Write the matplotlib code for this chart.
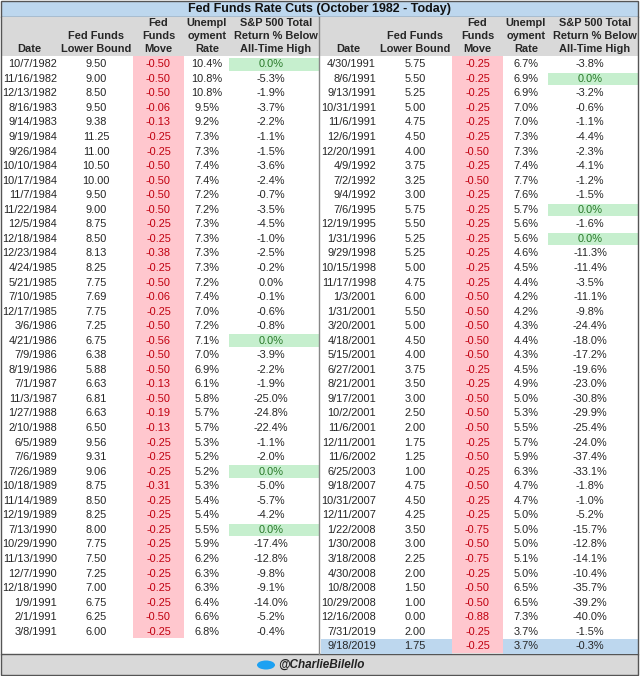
import matplotlib
matplotlib.use("Agg")
import matplotlib.pyplot as plt
from matplotlib.patches import Rectangle, Ellipse

plt.rcParams['font.family'] = ['Liberation Sans', 'DejaVu Sans']

dates_l = ["10/7/1982","11/16/1982","12/13/1982","8/16/1983","9/14/1983","9/19/1984","9/26/1984","10/10/1984","10/17/1984","11/7/1984","11/22/1984","12/5/1984","12/18/1984","12/23/1984","4/24/1985","5/21/1985","7/10/1985","12/17/1985","3/6/1986","4/21/1986","7/9/1986","8/19/1986","7/1/1987","11/3/1987","1/27/1988","2/10/1988","6/5/1989","7/6/1989","7/26/1989","10/18/1989","11/14/1989","12/19/1989","7/13/1990","10/29/1990","11/13/1990","12/7/1990","12/18/1990","1/9/1991","2/1/1991","3/8/1991"]
lower_l = ["9.50","9.00","8.50","9.50","9.38","11.25","11.00","10.50","10.00","9.50","9.00","8.75","8.50","8.13","8.25","7.75","7.69","7.75","7.25","6.75","6.38","5.88","6.63","6.81","6.63","6.50","9.56","9.31","9.06","8.75","8.50","8.25","8.00","7.75","7.50","7.25","7.00","6.75","6.25","6.00"]
move_l = ["-0.50","-0.50","-0.50","-0.06","-0.13","-0.25","-0.25","-0.50","-0.50","-0.50","-0.50","-0.25","-0.25","-0.38","-0.25","-0.50","-0.06","-0.25","-0.50","-0.56","-0.50","-0.50","-0.13","-0.50","-0.19","-0.13","-0.25","-0.25","-0.25","-0.31","-0.25","-0.25","-0.25","-0.25","-0.25","-0.25","-0.25","-0.25","-0.50","-0.25"]
unemp_l = ["10.4%","10.8%","10.8%","9.5%","9.2%","7.3%","7.3%","7.4%","7.4%","7.2%","7.2%","7.3%","7.3%","7.3%","7.3%","7.2%","7.4%","7.0%","7.2%","7.1%","7.0%","6.9%","6.1%","5.8%","5.7%","5.7%","5.3%","5.2%","5.2%","5.3%","5.4%","5.4%","5.5%","5.9%","6.2%","6.3%","6.3%","6.4%","6.6%","6.8%"]
sp_l = ["0.0%","-5.3%","-1.9%","-3.7%","-2.2%","-1.1%","-1.5%","-3.6%","-2.4%","-0.7%","-3.5%","-4.5%","-1.0%","-2.5%","-0.2%","0.0%","-0.1%","-0.6%","-0.8%","0.0%","-3.9%","-2.2%","-1.9%","-25.0%","-24.8%","-22.4%","-1.1%","-2.0%","0.0%","-5.0%","-5.7%","-4.2%","0.0%","-17.4%","-12.8%","-9.8%","-9.1%","-14.0%","-5.2%","-0.4%"]
ath_l = [0, 19, 28, 32]  # rows flagged as new all-time high

dates_r = ["4/30/1991","8/6/1991","9/13/1991","10/31/1991","11/6/1991","12/6/1991","12/20/1991","4/9/1992","7/2/1992","9/4/1992","7/6/1995","12/19/1995","1/31/1996","9/29/1998","10/15/1998","11/17/1998","1/3/2001","1/31/2001","3/20/2001","4/18/2001","5/15/2001","6/27/2001","8/21/2001","9/17/2001","10/2/2001","11/6/2001","12/11/2001","11/6/2002","6/25/2003","9/18/2007","10/31/2007","12/11/2007","1/22/2008","1/30/2008","3/18/2008","4/30/2008","10/8/2008","10/29/2008","12/16/2008","7/31/2019","9/18/2019"]
lower_r = ["5.75","5.50","5.25","5.00","4.75","4.50","4.00","3.75","3.25","3.00","5.75","5.50","5.25","5.25","5.00","4.75","6.00","5.50","5.00","4.50","4.00","3.75","3.50","3.00","2.50","2.00","1.75","1.25","1.00","4.75","4.50","4.25","3.50","3.00","2.25","2.00","1.50","1.00","0.00","2.00","1.75"]
move_r = ["-0.25","-0.25","-0.25","-0.25","-0.25","-0.25","-0.50","-0.25","-0.50","-0.25","-0.25","-0.25","-0.25","-0.25","-0.25","-0.25","-0.50","-0.50","-0.50","-0.50","-0.50","-0.25","-0.25","-0.50","-0.50","-0.50","-0.25","-0.50","-0.25","-0.50","-0.25","-0.25","-0.75","-0.50","-0.75","-0.25","-0.50","-0.50","-0.88","-0.25","-0.25"]
unemp_r = ["6.7%","6.9%","6.9%","7.0%","7.0%","7.3%","7.3%","7.4%","7.7%","7.6%","5.7%","5.6%","5.6%","4.6%","4.5%","4.4%","4.2%","4.2%","4.3%","4.4%","4.3%","4.5%","4.9%","5.0%","5.3%","5.5%","5.7%","5.9%","6.3%","4.7%","4.7%","5.0%","5.0%","5.0%","5.1%","5.0%","6.5%","6.5%","7.3%","3.7%","3.7%"]
sp_r = ["-3.8%","0.0%","-3.2%","-0.6%","-1.1%","-4.4%","-2.3%","-4.1%","-1.2%","-1.5%","0.0%","-1.6%","0.0%","-11.3%","-11.4%","-3.5%","-11.1%","-9.8%","-24.4%","-18.0%","-17.2%","-19.6%","-23.0%","-30.8%","-29.9%","-25.4%","-24.0%","-37.4%","-33.1%","-1.8%","-1.0%","-5.2%","-15.7%","-12.8%","-14.1%","-10.4%","-35.7%","-39.2%","-40.0%","-1.5%","-0.3%"]
ath_r = [1, 10, 12]

W, H = 640, 676
fig = plt.figure(figsize=(6.4, 6.76), dpi=100)
ax = fig.add_axes([0, 0, 1, 1])
ax.set_xlim(0, W); ax.set_ylim(H, 0); ax.axis('off')

FS = 7.9
TXT = '#262626'
RED = '#c0000f'
PINK = '#ffc7ce'
GREEN_BG = '#c6efce'
GREEN_TX = '#2a7a2a'
BLUE = '#bdd7ee'
GRAY = '#d9d9d9'

ax.add_patch(Rectangle((1, 1), W-3, 16, fc=BLUE, ec='#555555', lw=1))
ax.add_patch(Rectangle((1, 17), W-3, 39, fc=GRAY, ec='none'))
ax.add_patch(Rectangle((1, 56), W-3, 598, fc='white', ec='none'))
ax.add_patch(Rectangle((1, 654), W-3, 21, fc=GRAY, ec='#555555', lw=1))
ax.plot([1, 1], [17, 654], color='#555555', lw=1)
ax.plot([W-2, W-2], [17, 654], color='#555555', lw=1)
ax.plot([319, 319], [17, 654], color='#888888', lw=1)

ax.text(W/2, 9, "Fed Funds Rate Cuts (October 1982 - Today)", ha='center', va='center',
        fontsize=9, fontweight='bold', color='#111111')

top = 57
rh = 14.55

def draw_half(x0, dates, lower, move, unemp, sp, ath, last_blue):
    xd, xl, xm0, xm1, xu, xs0, xs1 = x0+57, x0+96, x0+133, x0+184, x0+207, x0+229, x0+319
    n = len(dates)
    hdr = dict(ha='center', va='center', fontsize=FS, fontweight='bold', color=TXT)
    ax.text(xd-28, 49, "Date", **hdr)
    ax.text(xl, 36, "Fed Funds", **hdr); ax.text(xl, 49, "Lower Bound", **hdr)
    for i, s in enumerate(["Fed", "Funds", "Move"]):
        ax.text((xm0+xm1)/2, 23+13*i, s, **hdr)
    for i, s in enumerate(["Unempl", "oyment", "Rate"]):
        ax.text(xu, 23+13*i, s, **hdr)
    for i, s in enumerate(["S&P 500 Total", "Return % Below", "All-Time High"]):
        ax.text((xs0+xs1)/2+2, 23+13*i, s, **hdr)
    ax.add_patch(Rectangle((xm0, top-1), xm1-xm0, n*rh, fc=PINK, ec='none'))
    for i in range(n):
        y = top + rh*i + rh/2
        if last_blue and i == n-1:
            ax.add_patch(Rectangle((x0+2, y-rh/2), xm0-x0-2, rh, fc=BLUE, ec='none'))
            ax.add_patch(Rectangle((xm1, y-rh/2), xs1-xm1, rh, fc=BLUE, ec='none'))
        if i in ath:
            ax.add_patch(Rectangle((xs0, y-rh/2+1), xs1-xs0, rh-2, fc=GREEN_BG, ec='none'))
        ax.text(xd, y, dates[i], ha='right', va='center', fontsize=FS, color=TXT)
        ax.text(xl, y, lower[i], ha='center', va='center', fontsize=FS, color=TXT)
        ax.text((xm0+xm1)/2, y, move[i], ha='center', va='center', fontsize=FS, color=RED)
        ax.text(xu, y, unemp[i], ha='center', va='center', fontsize=FS, color=TXT)
        ax.text((xs0+xs1)/2-3, y, sp[i], ha='center', va='center', fontsize=FS,
                color=GREEN_TX if i in ath else TXT)

draw_half(0, dates_l, lower_l, move_l, unemp_l, sp_l, ath_l, False)
draw_half(319, dates_r, lower_r, move_r, unemp_r, sp_r, ath_r, True)

ax.add_patch(Ellipse((266, 665), 18, 9, fc='#1da1f2', ec='none'))
ax.text(278, 665, "@CharlieBilello", ha='left', va='center', fontsize=8.5,
        fontstyle='italic', fontweight='bold', color='#222222')

fig.savefig("out.png", dpi=100)
